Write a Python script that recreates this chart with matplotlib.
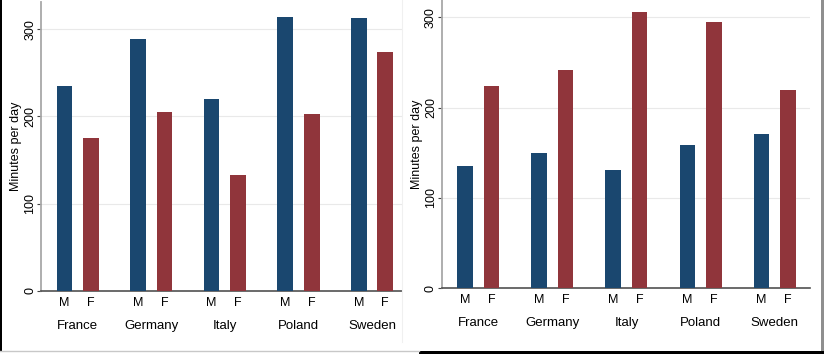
import matplotlib.pyplot as plt
import numpy as np
from matplotlib.patches import Rectangle
from matplotlib.lines import Line2D

countries = ['France', 'Germany', 'Italy', 'Poland', 'Sweden']
sexes = ['M', 'F']

# left panel (minutes per day)
left_m = [235, 289, 220, 314, 313]
left_f = [175, 205, 133, 203, 274]

# right panel (minutes per day)
right_m = [135, 150, 131, 159, 171]
right_f = [224, 242, 306, 295, 220]

yticks = [0, 100, 200, 300]

navy = '#1a476f'
maroon = '#90353b'

W, H = 824, 354
fig = plt.figure(figsize=(W / 100, H / 100), dpi=100)
fig.patch.set_facecolor('white')


def px_axes(x0, x1, y_top, y_base):
    return fig.add_axes([x0 / W, 1 - y_base / H, (x1 - x0) / W, (y_base - y_top) / H])


def draw_panel(ax, m_vals, f_vals, ymax, xlim, width, off):
    x = np.arange(len(countries))
    ax.bar(x - off, m_vals, width=width, color=navy, zorder=3)
    ax.bar(x + off, f_vals, width=width, color=maroon, zorder=3)
    ax.set_xlim(*xlim)
    ax.set_ylim(0, ymax)
    ax.set_yticks(yticks)
    ax.set_yticklabels([str(t) for t in yticks], rotation=90, va='center',
                       family='Liberation Sans', fontsize=9)
    ax.tick_params(axis='y', length=3, width=0.8, color='#444444', pad=0.5)
    ax.set_xticks([])
    for t in yticks[1:]:
        ax.axhline(t, color='#e9e9e9', lw=0.8, zorder=1)
    for s in ['top', 'right']:
        ax.spines[s].set_visible(False)
    ax.spines['left'].set_color('#a8a8a8')
    ax.spines['left'].set_linewidth(1.3)
    ax.spines['bottom'].set_color('#505050')
    ax.spines['bottom'].set_linewidth(1.2)
    w = ax.get_position().width * W
    h = ax.get_position().height * H
    ax.set_ylabel('Minutes per day', family='Liberation Sans', fontsize=9, va='center')
    ax.yaxis.set_label_coords(-24.5 / w, 0.5)
    tr = ax.get_xaxis_transform()
    for i, c in enumerate(countries):
        ax.text(i - off, -12 / h, sexes[0], transform=tr, ha='center', va='center',
                family='Liberation Sans', fontsize=9)
        ax.text(i + off, -12 / h, sexes[1], transform=tr, ha='center', va='center',
                family='Liberation Sans', fontsize=9)
        ax.text(i, -35 / h, c, transform=tr, ha='center', va='center',
                family='Liberation Sans', fontsize=9.5)


ax1 = px_axes(41, 402, 2, 290.7)
draw_panel(ax1, left_m, left_f, 288.7 / 0.8713, (-0.4996, 4.408), 0.213, 0.18)

ax2 = px_axes(441.7, 809.5, 0, 288)
draw_panel(ax2, right_m, right_f, 288 / 0.902, (-0.493, 4.47), 0.21, 0.179)

# screenshot frame pieces
fig.add_artist(Rectangle((0, 3 / H), 1.5 / W, 1, transform=fig.transFigure,
                         color='black', lw=0))
fig.add_artist(Line2D([0, 419 / W], [1 - 351 / H, 1 - 351 / H], transform=fig.transFigure,
                      color='#c8c8c8', lw=1))
fig.add_artist(Line2D([402 / W, 402 / W], [1 - 342 / H, 1], transform=fig.transFigure,
                      color='#f0f0f0', lw=0.8))
fig.add_artist(Rectangle((419 / W, 0), 1, 3.5 / H, transform=fig.transFigure,
                         color='black', lw=0))
fig.add_artist(Rectangle((821 / W, 3.5 / H), 3 / W, 1, transform=fig.transFigure,
                         color='#8f8f8f', lw=0))

fig.savefig('out.png', dpi=100)
